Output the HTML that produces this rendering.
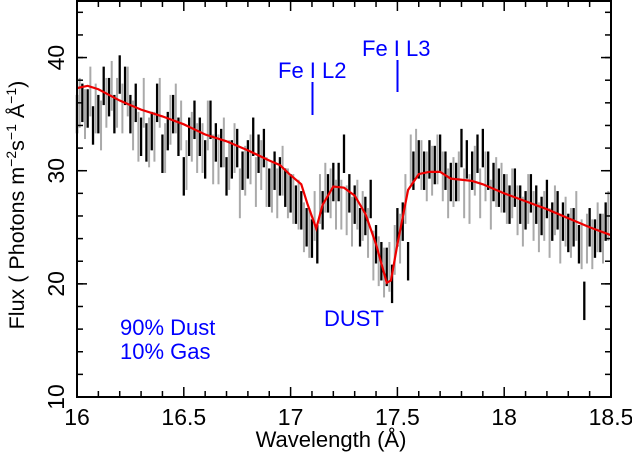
<!DOCTYPE html>
<html><head><meta charset="utf-8"><style>
body{margin:0;background:#fff}svg{display:block;font-family:"Liberation Sans",sans-serif}
</style></head><body>
<svg id="c" width="632" height="454"></svg>
<script>
const modelX=[16.0,16.05,16.1,16.2,16.3,16.4,16.5,16.6,16.7,16.8,16.9,16.95,17.0,17.05,17.08,17.12,17.15,17.2,17.25,17.3,17.35,17.4,17.45,17.47,17.5,17.55,17.6,17.65,17.7,17.75,17.8,17.85,17.9,18.0,18.1,18.2,18.3,18.4,18.5];
const modelY=[37.3,37.5,37.2,36.2,35.4,34.8,34.1,33.2,32.6,31.8,30.9,30.5,29.6,28.8,27.0,24.9,27.0,28.6,28.5,27.8,26.2,23.5,20.1,20.3,23.5,28.3,29.7,29.9,29.9,29.3,29.2,29.1,28.8,28.0,27.3,26.6,25.8,25.0,24.3];
const blackStart=16.0, grayStart=16.0125, binStep=0.025;
const blackVals=[35,36,35.5,34,35,37.5,36.5,35,38.5,37.5,35,36,33,32.5,33.5,36,31.5,33.5,35,33,
29.5,33,34.5,33,31,34.5,32.5,32,29.5,31,32,30,31,33,31.5,32,28.5,30,29.5,28.5,
28,27,26.5,25,24,23.5,26.5,28,29,29,31.5,28,27,25,26,27.5,23.5,22,21.5,20,
25,25.5,22,30,31,30,31,30.5,31.5,30,29,29,32,31,30,31.5,32,30,29,28.5,
28,27,28.5,27,26.5,28,27,26,27.5,25.5,26.5,25.5,24.5,25,23.5,18.5,25,24,24.5,25.5];
const blackErr=1.7;
const grayVals=[36,35,37,35.5,34,36,37.5,36,35.5,37,34,33,36,32.5,33,36,32,34.5,35.5,34,
30.5,33,32,32,34,31,31,32.5,30.5,32,28,30,31,29,30.5,29,28.5,28,30,28,
27.5,27,25,24.5,26,27.5,28.5,28,27,27,26.5,25.5,27,26,24.5,22.5,22,21,21.5,23,
24,27.5,31,31.5,30.5,29.5,30,31,29.5,28,29,29.5,28,27.5,30,28,29.5,27,29,28.5,
27.5,28,26.5,25.5,27.5,26,25,26,24.5,26.5,24,25.5,24.5,26,23.5,24,23.5,25,24,26];
const grayErr=2.2;
const xTicks=[16,16.5,17,17.5,18,18.5];
const xTickLabels=["16","16.5","17","17.5","18","18.5"];
const yTicks=[10,20,30,40];
const yTickLabels=["10","20","30","40"];

const L=77,R=611,T=1,B=397,x0=16,x1=18.5,y0=10,y1=45;
const sx=v=>L+(v-x0)/(x1-x0)*(R-L);
const sy=v=>B-(v-y0)/(y1-y0)*(B-T);
const svg=document.getElementById('c');
const NS='http://www.w3.org/2000/svg';
function mk(t,a,p){const e=document.createElementNS(NS,t);for(const k in a)e.setAttribute(k,a[k]);(p||svg).appendChild(e);return e;}

const gG=mk('g',{});


grayVals.forEach((v,i)=>{const x=sx(grayStart+i*binStep);
 const e=mk('line',{x1:x,x2:x,y1:sy(v-grayErr),y2:sy(v+grayErr),stroke:'#aaa','stroke-width':2},gG);
 
 });
const gB=mk('g',{});


blackVals.forEach((v,i)=>{const x=sx(blackStart+i*binStep);
 const e=mk('line',{x1:x,x2:x,y1:sy(v-blackErr),y2:sy(v+blackErr),stroke:'#000','stroke-width':2.3},gB);
 
 });
const pm=mk('polyline',{points:modelX.map((x,i)=>sx(x)+','+sy(modelY[i])).join(' '),fill:'none',stroke:'#e00','stroke-width':2.2});



const fr=mk('rect',{x:L,y:T,width:R-L,height:B-T,fill:'none',stroke:'#000','stroke-width':2});


for(let k=0;k<=25;k++){const v=16+k*0.1,x=sx(v),len=(k%5==0)?10:6;
 mk('line',{x1:x,x2:x,y1:B,y2:B-len,stroke:'#000','stroke-width':1.5});
 mk('line',{x1:x,x2:x,y1:T,y2:T+len,stroke:'#000','stroke-width':1.5});}
for(let v=10;v<=45;v+=2){const y=sy(v),len=6;
 mk('line',{x1:L,x2:L+len,y1:y,y2:y,stroke:'#000','stroke-width':1.5});
 mk('line',{x1:R,x2:R-len,y1:y,y2:y,stroke:'#000','stroke-width':1.5});}
for(let v=10;v<=40;v+=10){const y=sy(v);
 mk('line',{x1:L,x2:L+10,y1:y,y2:y,stroke:'#000','stroke-width':1.5});
 mk('line',{x1:R,x2:R-10,y1:y,y2:y,stroke:'#000','stroke-width':1.5});}
xTicks.forEach((v,i)=>{const t=mk('text',{x:sx(v),y:425,'font-size':23,'text-anchor':'middle'});t.textContent=xTickLabels[i];
 
 });
yTicks.forEach((v,i)=>{const t=mk('text',{x:0,y:0,'font-size':23,'text-anchor':'middle',transform:`translate(64,${sy(v)}) rotate(-90)`});t.textContent=yTickLabels[i];
 
 });
</script>
<svg style="position:absolute;left:0;top:0" width="632" height="454">
<text x="331" y="447" font-size="22" text-anchor="middle" font-family="Liberation Sans">Wavelength (Å)</text>
<text transform="translate(24,205) rotate(-90)" font-size="21.5" text-anchor="middle" font-family="Liberation Sans">Flux ( Photons m<tspan font-size="14" dy="-8">−2</tspan><tspan dy="8">s</tspan><tspan font-size="14" dy="-8">−1</tspan><tspan dy="8"> Å</tspan><tspan font-size="14" dy="-8">−1</tspan><tspan dy="8">)</tspan></text>
<g fill="#00f" font-family="Liberation Sans" font-size="22">
<text x="278" y="78">Fe I L2</text>
<line x1="312.5" x2="312.5" y1="82" y2="115" stroke="#00f" stroke-width="2"/>
<text x="362" y="56">Fe I L3</text>
<line x1="397.5" x2="397.5" y1="60" y2="92" stroke="#00f" stroke-width="2"/>
<text x="324" y="326">DUST</text>
<text x="120" y="335">90% Dust</text>
<text x="120" y="359">10% Gas</text>
</g></svg>
</body></html>
